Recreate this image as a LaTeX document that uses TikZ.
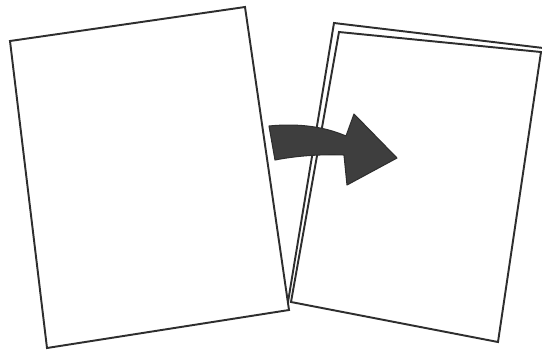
\documentclass[tikz,border=0pt]{standalone}
\usepackage{tikz}
\usetikzlibrary{calc}
\definecolor{pgink}{HTML}{2E2E2E}
\definecolor{pgarrow}{HTML}{3E3E3E}

\begin{document}
\begin{tikzpicture}[x=0.02cm,y=-0.02cm,
  sheet/.style={draw=pgink,line width=1.1pt,fill=white,line join=miter},
  turnarrow/.style={draw=pgink,line width=0.6pt,fill=pgarrow,line join=round}]
\useasboundingbox (0,0) rectangle (542,353);
\begin{scope}
\clip (0,0) rectangle (542,353);
% back sheet of the stack (only its left and top edges show)
\draw[sheet,fill=none] (288,302) -- (334,23) -- (560,50);
% front sheet of the stack
\draw[sheet] (291,302) -- (339,32) -- (541,52) -- (498,342) -- cycle;
\end{scope}
% single sheet
\draw[sheet] (10,41) -- (245,7) -- (289,310) -- (47,348) -- cycle;
% turning arrow
\draw[turnarrow] (269,126) .. controls (300,123) and (325,127) .. (346,136)
  -- (354,114) -- (397,158) -- (347,185) -- (344,155)
  .. controls (320,154) and (295,156) .. (275,160) -- cycle;
\end{tikzpicture}
\end{document}
